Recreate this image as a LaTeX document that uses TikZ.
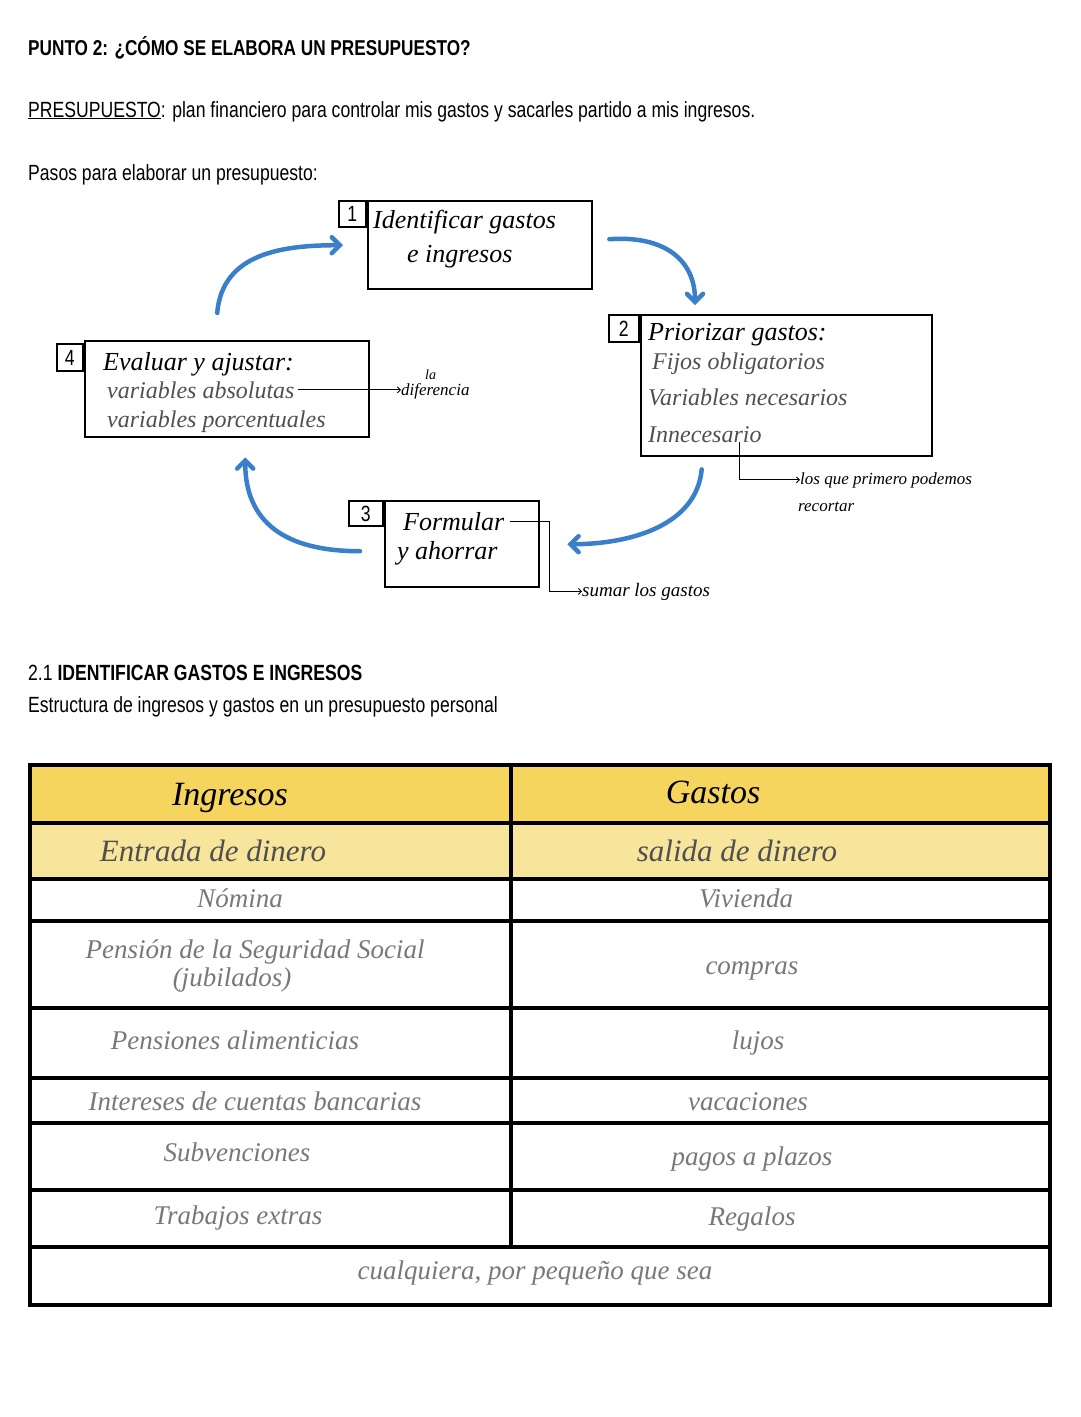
\documentclass[tikz,border=0pt]{standalone}
\usepackage{fontspec}
\setmainfont{Liberation Sans}[FakeStretch=0.8]
\newfontfamily\hand{Liberation Serif}
\usetikzlibrary{positioning,arrows.meta}
\definecolor{flowblue}{RGB}{58,127,202}
\definecolor{headgold}{RGB}{245,213,94}
\definecolor{subgold}{RGB}{248,229,156}
\definecolor{inkgray}{RGB}{80,80,80}
\definecolor{cellgray}{RGB}{120,120,120}

\begin{document}
\begin{tikzpicture}[x=1pt,y=-1pt,
    box/.style={draw,line width=2.4pt,anchor=north west,inner sep=0pt},
    numbox/.style={draw,line width=2.4pt,anchor=north east,inner sep=0pt,font=\fontsize{22}{24}\selectfont},
    flow/.style={draw=flowblue,line width=4.5pt,line cap=round,-{Straight Barb[length=8pt,width=16pt,line cap=round]}},
    note/.style={line width=0.9pt,-{Straight Barb[length=3pt,width=6pt]}},
    hw/.style={anchor=base west,inner sep=0pt,font=\hand\itshape\fontsize{26}{28}\selectfont},
    hwgray/.style={hw,text=inkgray,font=\hand\itshape\fontsize{24}{26}\selectfont},
    hwsmall/.style={anchor=base west,inner sep=0pt,font=\hand\itshape\fontsize{17}{19}\selectfont},
    cell/.style={anchor=base,inner sep=0pt,text=cellgray,font=\hand\itshape\fontsize{27}{29}\selectfont},
    tab/.style={line width=3.2pt}]
    \useasboundingbox (0,0) rectangle (1080,1417);
    %% Heading
    \node[anchor=base west,inner sep=0pt,font=\bfseries\fontsize{21.5}{26}\selectfont] (title) at (28,55) {PUNTO 2: ¿CÓMO SE ELABORA UN PRESUPUESTO?};
    \node[anchor=base west,inner sep=0pt,font=\fontsize{22}{26}\selectfont] (defn) at (28,117) {\underline{PRESUPUESTO}: plan financiero para controlar mis gastos y sacarles partido a mis ingresos.};
    \node[anchor=base west,inner sep=0pt,font=\fontsize{22}{26}\selectfont] (pasos) at (28,180) {Pasos para elaborar un presupuesto:};
    %% Steps
    \node[box,minimum width=224pt,minimum height=88pt] (step1) at (367,200) {};
    \node[numbox,minimum width=27pt,minimum height=26pt] (num1) at (step1.north west) {1};
    \node[hw] (step1a) at (373,228) {Identificar gastos};
    \node[hw] (step1b) at (407,262) {e ingresos};
    \node[box,minimum width=291pt,minimum height=141pt] (step2) at (640,314) {};
    \node[numbox,minimum width=30pt,minimum height=27pt] (num2) at (step2.north west) {2};
    \node[hw] (step2a) at (648,340) {Priorizar gastos:};
    \node[hwgray] (step2b) at (652,369) {Fijos obligatorios};
    \node[hwgray] (step2c) at (648,405) {Variables necesarios};
    \node[hwgray] (step2d) at (648,442) {Innecesario};
    \node[box,minimum width=154pt,minimum height=86pt] (step3) at (384,500) {};
    \node[numbox,minimum width=34pt,minimum height=25pt] (num3) at (step3.north west) {3};
    \node[hw] (step3a) at (403,530) {Formular};
    \node[hw] (step3b) at (397,559) {y ahorrar};
    \node[box,minimum width=284pt,minimum height=96pt] (step4) at (84,340) {};
    \node[numbox,minimum width=26pt,minimum height=27pt] (num4) at ([yshift=-3pt]step4.north west) {4};
    \node[hw] (step4a) at (103,370) {Evaluar y ajustar:};
    \node[hwgray] (step4b) at (107,398) {variables absolutas};
    \node[hwgray] (step4c) at (107,427) {variables porcentuales};
    %% Notes
    \node[hwsmall,font=\hand\itshape\fontsize{14}{16}\selectfont] (la) at (425,379) {la};
    \node[hwsmall] (dif) at (401,395) {diferencia};
    \node[hwsmall] (recorte) at (800,484) {los que primero podemos};
    \node[hwsmall] (recorte2) at (798,511) {recortar};
    \node[hwsmall,font=\hand\itshape\fontsize{19}{21}\selectfont] (sumar) at (582,596) {sumar los gastos};
    \draw[note] ([xshift=3pt]step4b.east) -- (dif.west |- step4b.east);
    \draw[note] ([xshift=-22pt]step2d.south east) |- (recorte.west);
    \draw[note] ([xshift=5pt]step3a.east) -- ++(40,0) |- (sumar.west);
    %% Cycle
    \draw[flow] ([shift={(-10,-27)}]step4.north) .. controls +(5,-60) and +(-60,0) .. ([xshift=-24pt]step1.west);
    \draw[flow] ([shift={(16,-6)}]step1.east) .. controls +(55,-4) and +(0,-45) .. ([shift={(55,-9)}]step2.north west);
    \draw[flow] ([shift={(-85,12)}]step2.south) .. controls +(-5,55) and +(65,0) .. ([xshift=27pt]step3.east);
    \draw[flow] ([shift={(-24,7)}]step3.west) .. controls +(-75,0) and +(0,65) .. ([shift={(18,19)}]step4.south);
    %% 2.1
    \node[anchor=base west,inner sep=0pt,font=\fontsize{22}{26}\selectfont] (sec) at (28,680) {2.1 \textbf{IDENTIFICAR GASTOS E INGRESOS}};
    \node[anchor=base west,inner sep=0pt,font=\fontsize{22}{26}\selectfont] (secsub) at (28,712) {Estructura de ingresos y gastos en un presupuesto personal};
    %% Table
    \fill[headgold] (30,765) rectangle (1050,823);
    \fill[subgold] (30,823) rectangle (1050,879);
    \foreach \y in {823,879,921,1008,1078,1123,1190,1247}
        \draw[tab] (30,\y) -- (1050,\y);
    \draw[tab] (511,765) -- (511,1247);
    \draw[tab] (30,765) rectangle (1050,1305);
    \node[cell,text=black,font=\hand\itshape\fontsize{34}{36}\selectfont] (ingresos) at (230,805) {Ingresos};
    \node[cell,text=black,font=\hand\itshape\fontsize{34}{36}\selectfont] (gastos) at (713,803) {Gastos};
    \node[cell,text=inkgray,font=\hand\itshape\fontsize{31}{33}\selectfont] (entrada) at (213,861) {Entrada de dinero};
    \node[cell,text=inkgray,font=\hand\itshape\fontsize{31}{33}\selectfont] (salida) at (737,861) {salida de dinero};
    \node[cell] (nomina) at (240,907) {Nómina};
    \node[cell] (vivienda) at (746,907) {Vivienda};
    \node[cell] (pension) at (255,958) {Pensión de la Seguridad Social};
    \node[cell] (jubilados) at (232,986) {(jubilados)};
    \node[cell] (compras) at (752,974) {compras};
    \node[cell] (alimentos) at (235,1049) {Pensiones alimenticias};
    \node[cell] (lujos) at (758,1049) {lujos};
    \node[cell] (intereses) at (255,1110) {Intereses de cuentas bancarias};
    \node[cell] (vacaciones) at (748,1110) {vacaciones};
    \node[cell] (subv) at (237,1161) {Subvenciones};
    \node[cell] (plazos) at (752,1165) {pagos a plazos};
    \node[cell] (extras) at (238,1224) {Trabajos extras};
    \node[cell] (regalos) at (752,1225) {Regalos};
    \node[cell] (cualquiera) at (535,1279) {cualquiera, por pequeño que sea};
\end{tikzpicture}
\end{document}
